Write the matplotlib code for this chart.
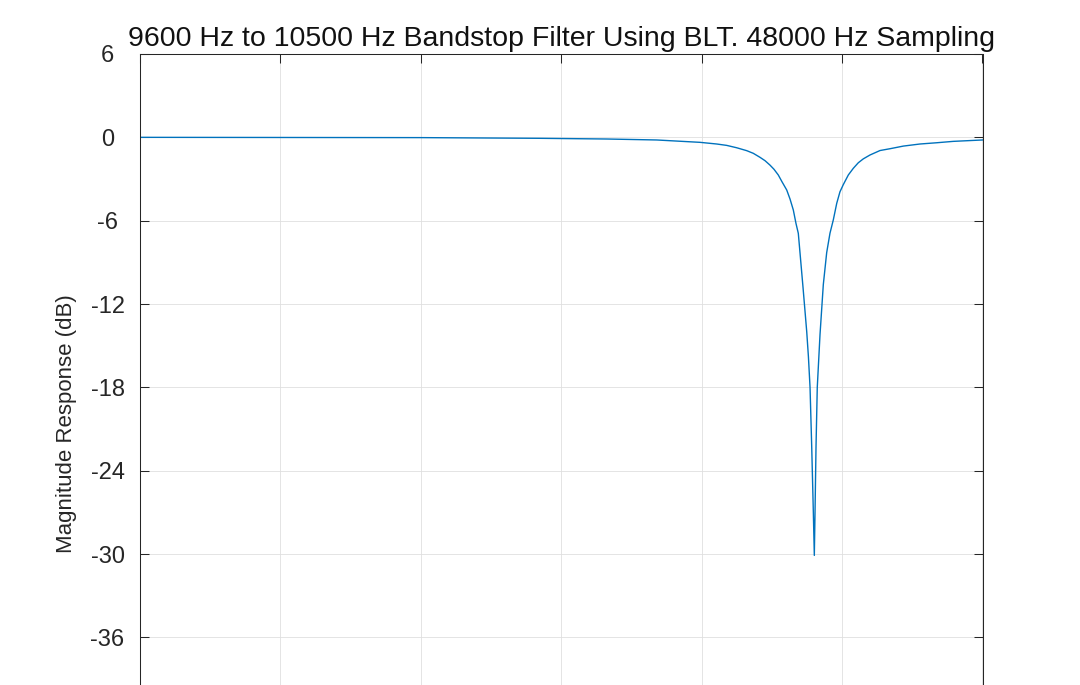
import numpy as np
import matplotlib
matplotlib.use("Agg")
import matplotlib.pyplot as plt

plt.rcParams['font.family'] = ['Liberation Sans', 'DejaVu Sans']
plt.rcParams['axes.unicode_minus'] = False

# values
freq_hz = [0, 2000, 4000, 5701, 6651, 7362, 7979, 8217, 8359, 8501, 8644,
           8737, 8833, 8904, 8975, 9032, 9093, 9146, 9213, 9260, 9307, 9345,
           9378, 9402, 9445, 9498, 9522, 9545, 9569, 9592, 9606, 9616, 9630,
           9648, 9687, 9734, 9782, 9829, 9876, 9925, 9971, 10019, 10090,
           10161, 10232, 10303, 10399, 10541, 10683, 10873, 11110, 11348,
           11584, 12000]
mag_db = [0.0, -0.01, -0.02, -0.07, -0.12, -0.19, -0.36, -0.48, -0.58, -0.75,
          -0.96, -1.15, -1.44, -1.68, -2.0, -2.3, -2.71, -3.2, -3.79, -4.44,
          -5.23, -6.2, -6.91, -8.3, -10.8, -14.0, -15.8, -18.0, -22.3, -27.0,
          -30.1, -27.0, -22.3, -18.0, -14.2, -10.6, -8.3, -6.9, -5.95, -4.75,
          -3.92, -3.4, -2.71, -2.23, -1.83, -1.55, -1.27, -0.95, -0.82, -0.63,
          -0.48, -0.39, -0.29, -0.19]

x_ticks = [0, 2000, 4000, 6000, 8000, 10000, 12000]
y_ticks = [-36, -30, -24, -18, -12, -6, 0, 6]

title = '9600 Hz to 10500 Hz Bandstop Filter Using BLT. 48000 Hz Sampling'
dark = '#262626'

fig = plt.figure(figsize=(10.8, 6.85), dpi=100)
# axes runs past the bottom edge, as in the cropped reference
ax = fig.add_axes([139.5 / 1080, 1 - 720.7 / 685, 843 / 1080, 666.7 / 685])

ax.plot(freq_hz, mag_db, color='#0072BD', lw=1.0)

ax.set_xlim(0, 12000)
ax.set_ylim(-42, 6)
ax.set_xticks(x_ticks)
ax.set_yticks(y_ticks)
ax.set_yticklabels([str(v) for v in y_ticks])
ax.grid(True, color='#dfdfdf', lw=0.6)
ax.set_axisbelow(True)

ax.tick_params(direction='in', length=6.5, width=0.75, color=dark,
               top=True, right=True, labelbottom=False, labelsize=17,
               labelcolor=dark)
ax.tick_params(axis='y', pad=23)
for lab in ax.get_yticklabels():
    lab.set_horizontalalignment('center')
for sp in ax.spines.values():
    sp.set_color(dark)
    sp.set_linewidth(0.75)

ax.set_title(title, fontsize=20.5, color='#111111', pad=6)
ax.set_ylabel('Magnitude Response (dB)', fontsize=16, color=dark, va='center')
ax.yaxis.set_label_coords(-0.087, 0.445)

fig.savefig('out.png', dpi=100)
